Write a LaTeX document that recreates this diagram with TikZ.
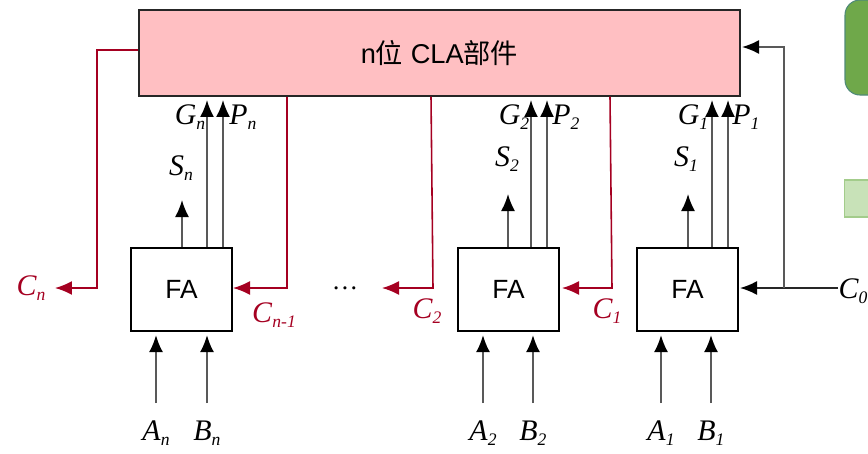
\documentclass[tikz,border=0pt]{standalone}
\usepackage{fontspec}
\setmainfont{Liberation Serif}
\newfontfamily\sansfont{Liberation Sans}
\newfontfamily\cjkfont{Noto Sans CJK SC}
\usepackage{color}
\usetikzlibrary{arrows.meta,positioning}
\definecolor{carryred}{HTML}{A50021}
\definecolor{clapink}{HTML}{FFBFC2}
\definecolor{sidegreen}{HTML}{6FA84A}
\definecolor{sideedge}{HTML}{4F8A78}
\definecolor{palegreen}{HTML}{C8E2B8}
\definecolor{paleedge}{HTML}{A3CC8B}
\newcommand{\sig}[2]{\textit{#1}\raisebox{-0.4ex}{\fontsize{10}{10}\selectfont\textit{#2}}}
\tikzset{
	wire/.style={draw=black!65, line width=1pt, -{Latex[length=3.4mm,width=2.8mm,color=black]}},
	inwire/.style={wire, shorten <=0.34cm, shorten >=0.07cm},
	carry/.style={draw=carryred, line width=0.9pt, -{Latex[length=3.4mm,width=2.8mm]}},
	fabox/.style={draw=black, line width=0.7pt, fill=white, minimum width=2.02cm, minimum height=1.66cm, inner sep=0pt, font=\sansfont\fontsize{15}{15}\selectfont},
	sigtext/.style={inner sep=0pt, font=\fontsize{17}{17}\selectfont},
	carrytext/.style={sigtext, text=carryred}
}
\begin{document}
\begin{tikzpicture}[x=0.02cm, y=-0.02cm]
	\useasboundingbox (0,0) rectangle (868,453);
	% side shapes cut off by the page edge
	\draw [rounded corners=0.3cm, fill=sidegreen, draw=sideedge, line width=0.6pt] (868,95) -- (845,95) -- (845,0) -- (868,0);
	\draw [fill=palegreen, draw=paleedge, line width=0.6pt] (868,180) -- (844.5,180) -- (844.5,217) -- (868,217);
	% main boxes
	\node (cla) [draw=black!85, line width=0.8pt, fill=clapink, minimum width=12.02cm, minimum height=1.72cm, inner sep=0pt] at (439.5,53) {\fontsize{15.5}{15.5}\selectfont\sansfont n\cjkfont 位\sansfont{} CLA\cjkfont 部件};
	\node (fan) [fabox] at (181.5,289.5) {FA};
	\node (fa2) [fabox] at (508.5,289.5) {FA};
	\node (fa1) [fabox] at (687.5,289.5) {FA};
	% labels on top
	\node (gn) [sigtext] at (190,117) {\sig{G}{n}};
	\node (pn) [sigtext] at (243,117) {\sig{P}{n}};
	\node (sn) [sigtext] at (181,168) {\sig{S}{n}};
	\node (g2) [sigtext] at (514,117) {\sig{G}{2}};
	\node (p2) [sigtext] at (566,117) {\sig{P}{2}};
	\node (s2) [sigtext] at (507,159) {\sig{S}{2}};
	\node (g1) [sigtext] at (693,117) {\sig{G}{1}};
	\node (p1) [sigtext] at (746,117) {\sig{P}{1}};
	\node (s1) [sigtext] at (686,159) {\sig{S}{1}};
	% labels at the bottom
	\node (an) [sigtext] at (156,433) {\sig{A}{n}};
	\node (bn) [sigtext] at (207,433) {\sig{B}{n}};
	\node (a2) [sigtext] at (483,433) {\sig{A}{2}};
	\node (b2) [sigtext] at (533,433) {\sig{B}{2}};
	\node (a1) [sigtext] at (661,433) {\sig{A}{1}};
	\node (b1) [sigtext] at (711,433) {\sig{B}{1}};
	% carries
	\node (cn) [carrytext] at (31,288) {\sig{C}{n}};
	\node (cnm) [carrytext] at (274,315) {\sig{C}{n-1}};
	\node (c2) [carrytext] at (427,311) {\sig{C}{2}};
	\node (c1) [carrytext] at (607,311) {\sig{C}{1}};
	\node (c0) [sigtext] at (853,291) {\sig{C}{0}};
	\node (dots) [inner sep=0pt, font=\fontsize{15}{15}\selectfont] at (345,288) {\dots};
	% free ends of the arrows
	\coordinate (snend) at (182,200);
	\coordinate (s2end) at (508,194);
	\coordinate (s1end) at (688,194);
	\coordinate (gnend) at (207,100);
	\coordinate (pnend) at (223,100);
	\coordinate (g2end) at (531,100);
	\coordinate (p2end) at (547,100);
	\coordinate (g1end) at (712,100);
	\coordinate (p1end) at (728,100);
	\coordinate (cnend) at (55,288);
	\coordinate (c2end) at (382,288);
	\coordinate (cnmend) at (233,288);
	\coordinate (c1end) at (562,288);
	\coordinate (c0end) at (740,288);
	\coordinate (c0turn) at (784,47);
	\coordinate (c0top) at (742,47);
	% sum outputs
	\draw [wire] (fan.north -| snend) -- (snend);
	\draw [wire] (fa2.north -| s2end) -- (s2end);
	\draw [wire] (fa1.north -| s1end) -- (s1end);
	% G and P up to the CLA box
	\draw [wire] (fan.north -| gnend) -- (gnend);
	\draw [wire] (fan.north -| pnend) -- (pnend);
	\draw [wire] (fa2.north -| g2end) -- (g2end);
	\draw [wire] (fa2.north -| p2end) -- (p2end);
	\draw [wire] (fa1.north -| g1end) -- (g1end);
	\draw [wire] (fa1.north -| p1end) -- (p1end);
	% A and B inputs
	\draw [inwire] (an.north) -- (an.north |- fan.south);
	\draw [inwire] (bn.north) -- (bn.north |- fan.south);
	\draw [inwire] (a2.north) -- (a2.north |- fa2.south);
	\draw [inwire] (b2.north) -- (b2.north |- fa2.south);
	\draw [inwire] (a1.north) -- (a1.north |- fa1.south);
	\draw [inwire] (b1.north) -- (b1.north |- fa1.south);
	% carry lines
	\draw [carry] (cla.west |- 0,50) -- (97,50) -- (97,288) -- (cnend);
	\draw [carry] (cla.south -| cnmend) ++(54,0) -- (287,288) -- (cnmend);
	\draw [carry] (cla.south -| c2end) ++(49,0) -- (433,288) -- (c2end);
	\draw [carry] (cla.south -| c1end) ++(48,0) -- (612,288) -- (c1end);
	% C0 input
	\draw [wire, draw=black!85] (c0.west |- c0end) -- (c0end);
	\draw [wire] (c0turn |- c0end) -- (c0turn) -- (c0top);
\end{tikzpicture}
\end{document}
